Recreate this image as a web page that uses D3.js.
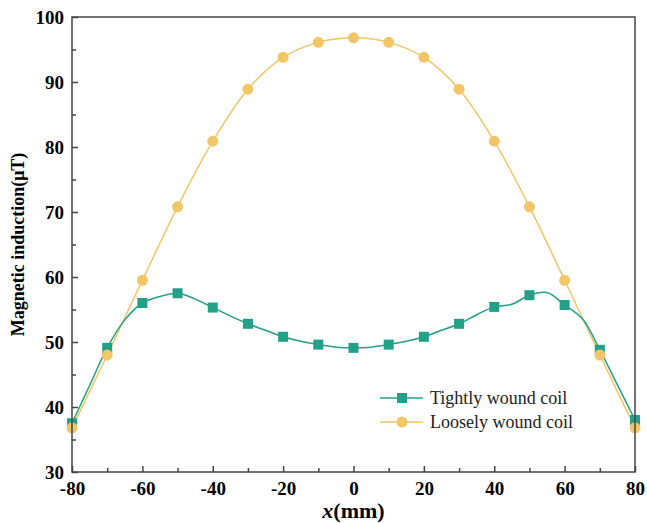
<!DOCTYPE html>
<html>
<head>
<meta charset="utf-8">
<script src="https://cdn.jsdelivr.net/npm/d3@7"></script>
<style>
  body { margin: 0; background: #fff; }
  text { font-family: "Liberation Serif", "Times New Roman", serif; }
</style>
</head>
<body>
<div id="chart"></div>
<script>
var width = 647;
var height = 523;

// tightly wound coil: line sampled every 5 mm, markers every 10 mm
var tightX = [-80,-75,-70,-65,-60,-55,-50,-45,-40,-35,-30,-25,-20,-15,-10,-5,0,5,10,15,20,25,30,35,40,45,50,55,60,65,70,75,80];
var tightY = [37.5,43.3,49.1,53.4,56.0,57.0,57.5,56.6,55.3,54.0,52.8,51.8,50.8,50.1,49.6,49.2,49.1,49.2,49.6,50.1,50.8,51.8,52.8,54.2,55.4,55.8,57.2,57.6,55.7,53.6,48.8,43.4,38.0];

var looseX = [-80,-70,-60,-50,-40,-30,-20,-10,0,10,20,30,40,50,60,70,80];
var looseY = [36.8,48.0,59.5,70.8,80.9,88.9,93.8,96.1,96.8,96.1,93.8,88.9,80.9,70.8,59.5,48.0,36.8];

var seriesNames = ["Tightly wound coil", "Loosely wound coil"];
var xTicks = [-80,-60,-40,-20,0,20,40,60,80];
var yTicks = [30,40,50,60,70,80,90,100];

var tightColor = "#22a088";
var looseColor = "#f0c666";

var margin = {left: 72, right: 12, top: 17, bottom: 51};

var svg = d3.select("#chart")
  .append("svg")
  .attr("width", width)
  .attr("height", height);

var x = d3.scaleLinear().domain([-80, 80]).range([margin.left, width - margin.right]);
var y = d3.scaleLinear().domain([30, 100]).range([height - margin.bottom, margin.top]);

var tight = tightX.map(function(d, i) { return {x: d, y: tightY[i]}; });
var loose = looseX.map(function(d, i) { return {x: d, y: looseY[i]}; });

var line = d3.line()
  .x(function(d) { return x(d.x); })
  .y(function(d) { return y(d.y); })
  .curve(d3.curveCatmullRom.alpha(0.5));

var plot = svg.append("g");

// loosely wound
plot.append("path")
  .attr("d", line(loose))
  .attr("fill", "none")
  .attr("stroke", looseColor)
  .attr("stroke-width", 1.5);

// tightly wound
plot.append("path")
  .attr("d", line(tight))
  .attr("fill", "none")
  .attr("stroke", tightColor)
  .attr("stroke-width", 1.5);

plot.selectAll(".sq")
  .data(tight.filter(function(d) { return d.x % 10 === 0; }))
  .enter().append("rect")
  .attr("class", "sq")
  .attr("x", function(d) { return x(d.x) - 5; })
  .attr("y", function(d) { return y(d.y) - 5; })
  .attr("width", 10)
  .attr("height", 10)
  .attr("fill", tightColor);

plot.selectAll(".ci")
  .data(loose)
  .enter().append("circle")
  .attr("class", "ci")
  .attr("cx", function(d) { return x(d.x); })
  .attr("cy", function(d) { return y(d.y); })
  .attr("r", 5.5)
  .attr("fill", looseColor);

// axes: ticks point inward
var axisColor = "#444";
var xAxis = svg.append("g")
  .attr("transform", "translate(0," + y(30) + ")")
  .call(d3.axisBottom(x).tickValues(d3.range(-80, 81, 10)).tickSize(-6).tickFormat(function(d) {
    return xTicks.indexOf(d) >= 0 ? d : "";
  }));
xAxis.selectAll(".tick line")
  .attr("y2", function(d) { return xTicks.indexOf(d) >= 0 ? -6 : -4; });

var yAxis = svg.append("g")
  .attr("transform", "translate(" + x(-80) + ",0)")
  .call(d3.axisLeft(y).tickValues(d3.range(30, 101, 5)).tickSize(-6).tickFormat(function(d) {
    return yTicks.indexOf(d) >= 0 ? d : "";
  }));
yAxis.selectAll(".tick line")
  .attr("x2", function(d) { return yTicks.indexOf(d) >= 0 ? 6 : 4; });

[xAxis, yAxis].forEach(function(a) {
  a.attr("font-family", "Liberation Serif").attr("font-size", 19).attr("font-weight", "bold");
  a.select(".domain").remove();
  a.selectAll(".tick line").attr("stroke", axisColor).attr("stroke-width", 1.5);
  a.selectAll("text").attr("fill", "#000");
});
xAxis.selectAll("text").attr("y", 10);
yAxis.selectAll("text").attr("x", -8);

// frame
svg.append("rect")
  .attr("x", x(-80))
  .attr("y", y(100))
  .attr("width", x(80) - x(-80))
  .attr("height", y(30) - y(100))
  .attr("fill", "none")
  .attr("stroke", axisColor)
  .attr("stroke-width", 1.5);

// axis titles
svg.append("text")
  .attr("transform", "translate(24," + ((y(30) + y(100)) / 2) + ") rotate(-90)")
  .attr("text-anchor", "middle")
  .style("font-size", "18px")
  .style("font-weight", "bold")
  .text("Magnetic induction(μT)");

var xt = svg.append("text")
  .attr("x", (x(-80) + x(80)) / 2)
  .attr("y", 518)
  .attr("text-anchor", "middle")
  .style("font-size", "22px")
  .style("font-weight", "bold");
xt.append("tspan").style("font-style", "italic").text("x");
xt.append("tspan").text("(mm)");

// legend
var legend = svg.append("g").attr("transform", "translate(380,398)");
var rows = legend.selectAll("g")
  .data(seriesNames)
  .enter().append("g")
  .attr("transform", function(d, i) { return "translate(0," + (i * 24) + ")"; });

rows.append("line")
  .attr("x1", 0).attr("x2", 43)
  .attr("stroke", function(d, i) { return i === 0 ? tightColor : looseColor; })
  .attr("stroke-width", 1.5);

rows.each(function(d, i) {
  var g = d3.select(this);
  if (i === 0) {
    g.append("rect").attr("x", 17).attr("y", -5).attr("width", 10).attr("height", 10).attr("fill", tightColor);
  } else {
    g.append("circle").attr("cx", 22).attr("cy", 0).attr("r", 5.5).attr("fill", looseColor);
  }
});

rows.append("text")
  .attr("x", 50)
  .attr("y", 6)
  .style("font-size", "18px")
  .attr("fill", "#222")
  .text(function(d) { return d; });
</script>
</body>
</html>
